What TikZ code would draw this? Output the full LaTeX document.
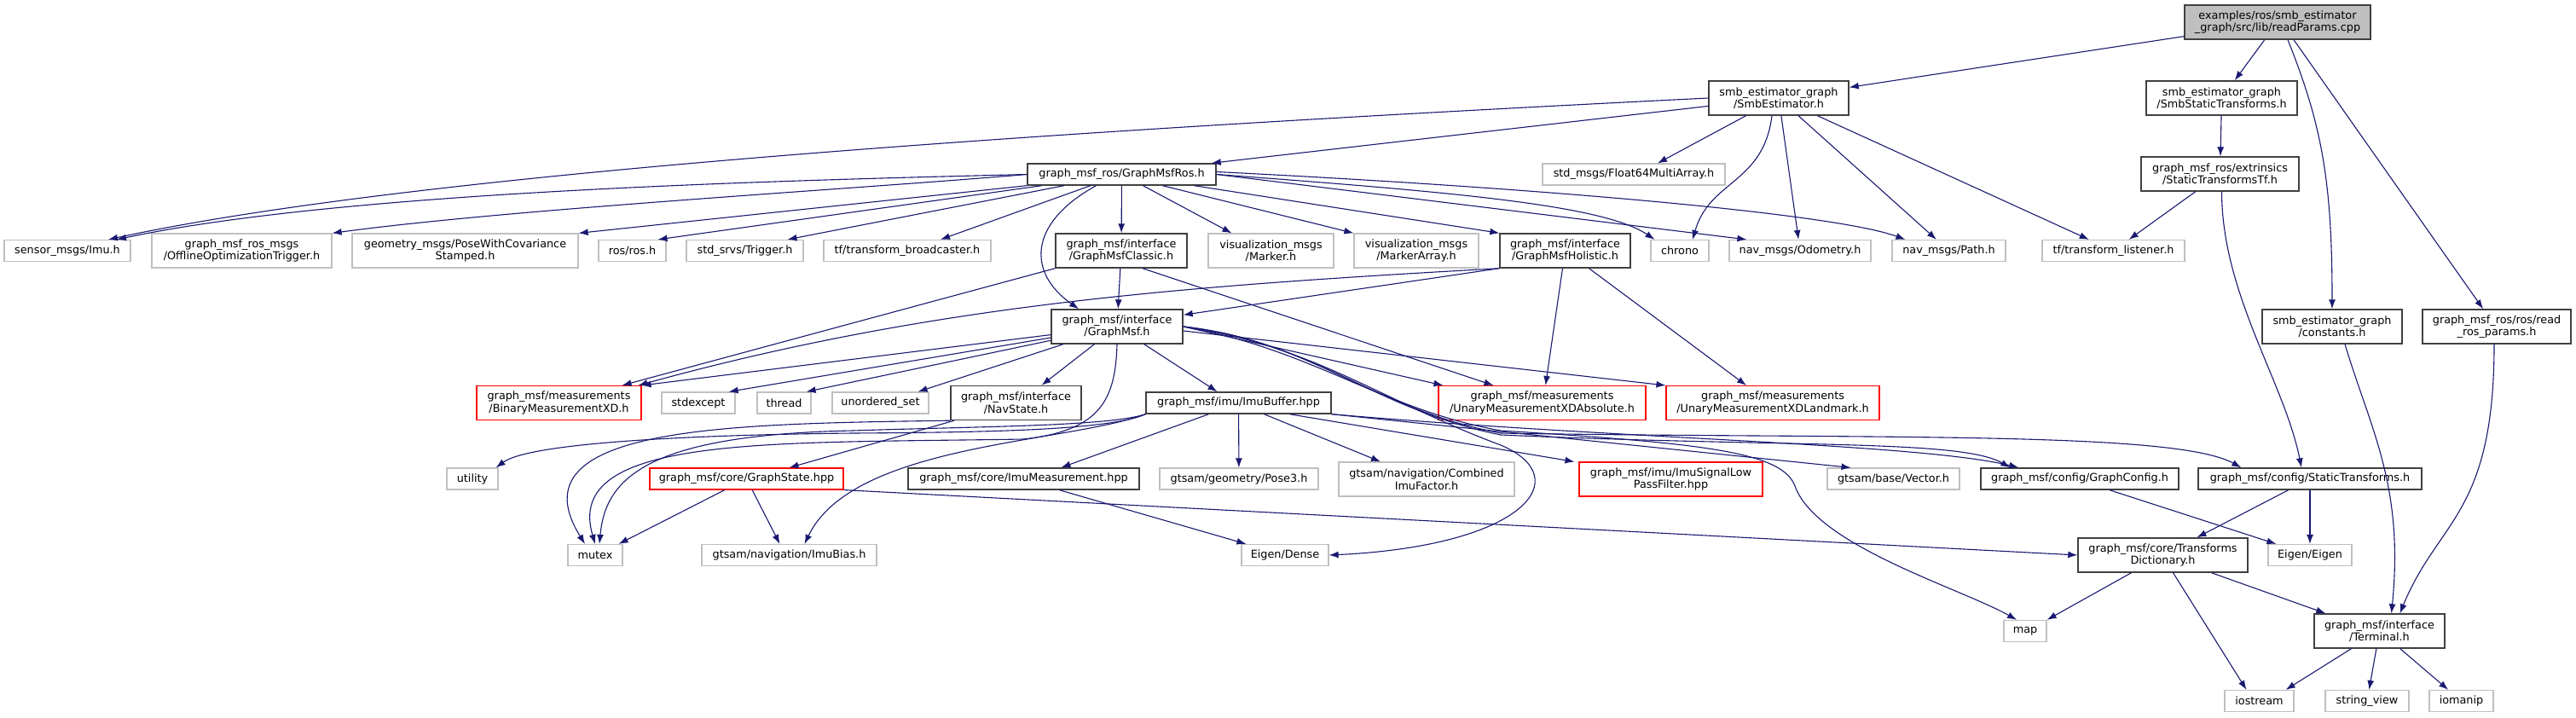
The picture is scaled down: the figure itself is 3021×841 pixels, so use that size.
\documentclass[tikz,border=0pt]{standalone}
\usepackage{fontspec}
\setmainfont{DejaVu Sans}
\usepackage{xcolor}
\usepackage{tikz}
\usetikzlibrary{arrows.meta}
\definecolor{edgeblue}{HTML}{191970}
\definecolor{extgray}{HTML}{BFBFBF}
\definecolor{docgray}{HTML}{404040}

\begin{document}
\begin{tikzpicture}[
  x=1pt,y=-1pt,
  file/.style={draw,rectangle,align=center,inner sep=2pt,minimum height=25,fill=white,font=\fontsize{12.8}{14.5}\selectfont},
  ext/.style={file,draw=extgray,line width=1.2pt},
  doc/.style={file,draw=docgray,line width=1.4pt},
  trunc/.style={file,draw=red,line width=1.1pt},
  root/.style={doc,fill=extgray},
  two/.style={minimum height=40},
  arrow/.style={-{Latex[length=11pt,width=8pt]},draw=edgeblue,line width=1.1pt}
]
\useasboundingbox (0,0) rectangle (3021,841);
\node[root,two,minimum width=218] (root) at (2671,26) {examples/ros/smb\_estimator\\\_graph/src/lib/readParams.cpp};
\node[doc,two,minimum width=164] (smbest) at (2086,115) {smb\_estimator\_graph\\/SmbEstimator.h};
\node[doc,two,minimum width=177] (smbstatic) at (2605.5,115) {smb\_estimator\_graph\\/SmbStaticTransforms.h};
\node[doc,minimum width=221] (rosnode) at (1315.5,204.5) {graph\_msf\_ros/GraphMsfRos.h};
\node[ext,minimum width=214] (float64) at (1916,204.5) {std\_msgs/Float64MultiArray.h};
\node[doc,two,minimum width=185] (tftf) at (2603.5,204) {graph\_msf\_ros/extrinsics\\/StaticTransformsTf.h};
\node[ext,minimum width=148] (imu) at (79,294) {sensor\_msgs/Imu.h};
\node[ext,two,minimum width=211] (offline) at (283.5,294) {graph\_msf\_ros\_msgs\\/OfflineOptimizationTrigger.h};
\node[ext,two,minimum width=265] (pose) at (545.5,294) {geometry\_msgs/PoseWithCovariance\\Stamped.h};
\node[ext,minimum width=79] (rosh) at (741.5,294) {ros/ros.h};
\node[ext,minimum width=137] (trigger) at (873.5,294) {std\_srvs/Trigger.h};
\node[ext,minimum width=196] (broadcaster) at (1064,294) {tf/transform\_broadcaster.h};
\node[doc,two,minimum width=154] (classic) at (1315,294) {graph\_msf/interface\\/GraphMsfClassic.h};
\node[ext,two,minimum width=147] (marker) at (1490.5,294) {visualization\_msgs\\/Marker.h};
\node[ext,two,minimum width=146] (markerarr) at (1661,294) {visualization\_msgs\\/MarkerArray.h};
\node[doc,two,minimum width=153] (holistic) at (1835.5,294) {graph\_msf/interface\\/GraphMsfHolistic.h};
\node[ext,minimum width=68] (chrono) at (1970,294) {chrono};
\node[ext,minimum width=166] (odom) at (2111,294) {nav\_msgs/Odometry.h};
\node[ext,minimum width=133] (path) at (2285.5,294) {nav\_msgs/Path.h};
\node[ext,minimum width=167] (listener) at (2478.5,294) {tf/transform\_listener.h};
\node[doc,two,minimum width=154] (graphmsf) at (1310,383) {graph\_msf/interface\\/GraphMsf.h};
\node[doc,two,minimum width=164] (constants) at (2735,383) {smb\_estimator\_graph\\/constants.h};
\node[doc,two,minimum width=174] (readros) at (2928,383) {graph\_msf\_ros/ros/read\\\_ros\_params.h};
\node[trunc,two,minimum width=193] (binary) at (655.5,472.5) {graph\_msf/measurements\\/BinaryMeasurementXD.h};
\node[ext,minimum width=86] (stdexcept) at (819,472.5) {stdexcept};
\node[ext,minimum width=63] (thread) at (919.5,472.5) {thread};
\node[ext,minimum width=113] (unordered) at (1032.5,472.5) {unordered\_set};
\node[doc,two,minimum width=153] (navstate) at (1191.5,472.5) {graph\_msf/interface\\/NavState.h};
\node[doc,minimum width=217] (imubuffer) at (1452.5,472.5) {graph\_msf/imu/ImuBuffer.hpp};
\node[trunc,two,minimum width=243] (unaryabs) at (1808.5,472.5) {graph\_msf/measurements\\/UnaryMeasurementXDAbsolute.h};
\node[trunc,two,minimum width=250] (landmark) at (2079,472.5) {graph\_msf/measurements\\/UnaryMeasurementXDLandmark.h};
\node[ext,minimum width=60] (utility) at (554,561.5) {utility};
\node[trunc,minimum width=227] (graphstate) at (875.5,561.5) {graph\_msf/core/GraphState.hpp};
\node[doc,minimum width=271] (imumeas) at (1200.5,561.5) {graph\_msf/core/ImuMeasurement.hpp};
\node[ext,minimum width=186] (pose3) at (1453,561.5) {gtsam/geometry/Pose3.h};
\node[ext,two,minimum width=206] (combined) at (1673,562) {gtsam/navigation/Combined\\ImuFactor.h};
\node[trunc,two,minimum width=215] (lowpass) at (1959.5,562) {graph\_msf/imu/ImuSignalLow\\PassFilter.hpp};
\node[ext,minimum width=155] (vector) at (2220.5,561.5) {gtsam/base/Vector.h};
\node[doc,minimum width=232] (graphconfig) at (2439,561.5) {graph\_msf/config/GraphConfig.h};
\node[doc,minimum width=262] (statictf) at (2709,561.5) {graph\_msf/config/StaticTransforms.h};
\node[ext,minimum width=64] (mutex) at (698,651) {mutex};
\node[ext,minimum width=205] (imubias) at (925.5,651) {gtsam/navigation/ImuBias.h};
\node[ext,minimum width=102] (dense) at (1507,651) {Eigen/Dense};
\node[doc,two,minimum width=199] (dict) at (2536.5,651) {graph\_msf/core/Transforms\\Dictionary.h};
\node[ext,minimum width=98] (eigen) at (2709,651) {Eigen/Eigen};
\node[ext,minimum width=50] (map) at (2375,740) {map};
\node[doc,two,minimum width=153] (terminal) at (2790.5,740) {graph\_msf/interface\\/Terminal.h};
\node[ext,minimum width=81] (iostream) at (2649.5,822) {iostream};
\node[ext,minimum width=98] (stringview) at (2776,822) {string\_view};
\node[ext,minimum width=75] (iomanip) at (2886.5,822) {iomanip};
\draw[arrow] (root) -- (smbest);
\draw[arrow] (root) -- (smbstatic);
\draw[arrow] ([xshift=12pt]root.south) .. controls +(40,100) and +(0,-150) .. (constants.north);
\draw[arrow] ([xshift=19pt]root.south) -- ([xshift=-16pt]readros.north);
\draw[arrow] (smbest.west) .. controls (1300,150) and (500,200) .. ([xshift=48pt]imu.north);
\draw[arrow] (smbest) -- ([xshift=-6pt]rosnode.north east);
\draw[arrow] (smbest) -- ([xshift=28pt]float64.north);
\draw[arrow] ([xshift=-8pt]smbest.south) .. controls +(-10,80) and +(20,-70) .. ([xshift=15pt]chrono.north);
\draw[arrow] (smbest) -- (odom);
\draw[arrow] (smbest) -- (path);
\draw[arrow] (smbest) -- (listener);
\draw[arrow] (smbstatic) -- (tftf);
\draw[arrow] (tftf) -- (listener);
\draw[arrow] ([xshift=2pt]tftf.south) .. controls +(0,120) and +(-20,-100) .. ([xshift=-10pt]statictf.north);
\draw[arrow] ([xshift=15pt]constants.south) .. controls +(30,100) and +(15,-150) .. ([xshift=14pt]terminal.north);
\draw[arrow] ([xshift=-3pt]readros.south) .. controls +(0,200) and +(45,-110) .. ([xshift=24pt]terminal.north);
\draw[arrow] (rosnode.west) .. controls (900,212) and (400,225) .. ([xshift=58pt]imu.north);
\draw[arrow] (rosnode.west) .. controls (1000,222) and (600,245) .. (offline.north east);
\draw[arrow] (rosnode.south west) -- (pose.north east);
\draw[arrow] (rosnode) -- ([xshift=30pt]rosh.north);
\draw[arrow] (rosnode) -- ([xshift=50pt]trigger.north);
\draw[arrow] (rosnode) -- ([xshift=39pt]broadcaster.north);
\draw[arrow] ([xshift=-30pt]rosnode.south) .. controls (1205,262) and (1205,320) .. ([xshift=-45pt]graphmsf.north);
\draw[arrow] (rosnode) -- (classic);
\draw[arrow] ([xshift=25pt]rosnode.south) -- ([xshift=-46pt]marker.north);
\draw[arrow] ([xshift=48pt]rosnode.south) -- (markerarr.north west);
\draw[arrow] ([xshift=85pt]rosnode.south) -- (holistic.north west);
\draw[arrow] (rosnode.east) .. controls (1700,225) and (1880,240) .. ([xshift=5pt]chrono.north west);
\draw[arrow] (rosnode.east) -- ([xshift=21pt]odom.north west);
\draw[arrow] ([yshift=3pt]rosnode.east) .. controls (1800,220) and (2150,250) .. ([xshift=16pt]path.north west);
\draw[arrow] (classic) -- (graphmsf);
\draw[arrow] (classic.south west) -- ([xshift=-23pt]binary.north east);
\draw[arrow] ([xshift=25pt]classic.south) -- ([xshift=-57pt]unaryabs.north);
\draw[arrow] (holistic.south west) -- ([yshift=-7pt]graphmsf.north east);
\draw[arrow] (holistic.south west) .. controls (1400,335) and (1100,355) .. ([xshift=-4pt]binary.north east);
\draw[arrow] (holistic) -- ([xshift=4pt]unaryabs.north);
\draw[arrow] ([xshift=28pt]holistic.south) -- ([xshift=-31pt]landmark.north);
\draw[arrow] (graphmsf) -- (binary.north east);
\draw[arrow] (graphmsf) -- ([xshift=-8pt]stdexcept.north east);
\draw[arrow] (graphmsf) -- ([xshift=-6pt]thread.north east);
\draw[arrow] (graphmsf) -- ([xshift=-13pt]unordered.north east);
\draw[arrow] (graphmsf) -- ([xshift=30pt]navstate.north);
\draw[arrow] (graphmsf) -- ([xshift=-25pt]imubuffer.north);
\draw[arrow] (graphmsf.east) -- ([xshift=6pt]unaryabs.north west);
\draw[arrow] ([yshift=-5pt]graphmsf.east) -- (landmark.north west);
\draw[arrow] (graphmsf.south) .. controls (1308,470) and (1290,505) .. (1200,515) .. controls (900,520) and (660,510) .. (mutex.north);
\draw[arrow] (graphmsf.east) .. controls (1540,405) and (1620,470) .. (1760,522) .. controls (1850,560) and (1790,640) .. (dense.east);
\draw[arrow] (graphmsf.east) .. controls (1540,410) and (1620,480) .. (1760,505) .. controls (2000,520) and (2090,530) .. (2105,570) .. controls (2130,640) and (2300,690) .. ([xshift=-10pt]map.north);
\draw[arrow] (graphmsf.east) .. controls (1540,400) and (1610,480) .. (1760,510) .. controls (2100,525) and (2300,515) .. ([xshift=35pt]graphconfig.north west);
\draw[arrow] (graphmsf.east) .. controls (1540,400) and (1610,480) .. (1760,508) .. controls (2200,515) and (2550,505) .. ([xshift=51pt]statictf.north west);
\draw[arrow] (navstate) -- ([xshift=50pt]graphstate.north);
\draw[arrow] (navstate.south west) .. controls (850,497) and (600,500) .. ([xshift=-12pt]mutex.north);
\draw[arrow] ([xshift=-35pt]imubuffer.south) -- ([xshift=44pt]imumeas.north);
\draw[arrow] (imubuffer) -- (pose3);
\draw[arrow] ([xshift=30pt]imubuffer.south) -- ([xshift=-54pt]combined.north);
\draw[arrow] ([xshift=60pt]imubuffer.south) -- ([xshift=-5pt]lowpass.north west);
\draw[arrow] (imubuffer.south east) -- ([xshift=-50pt]vector.north);
\draw[arrow] (imubuffer.south east) .. controls (1900,515) and (2250,520) .. ([xshift=45pt]graphconfig.north west);
\draw[arrow] (imubuffer.south west) .. controls (1300,500) and (1150,500) .. (1000,505) .. controls (760,510) and (710,560) .. ([xshift=5pt]mutex.north);
\draw[arrow] (imubuffer.south west) .. controls (1300,505) and (1150,507) .. (1000,508) .. controls (800,510) and (620,520) .. ([xshift=-3pt]utility.north east);
\draw[arrow] (imubuffer.south west) .. controls (1250,520) and (1000,520) .. ([xshift=18pt]imubias.north);
\draw[arrow] (graphstate) -- ([xshift=-5pt]mutex.north east);
\draw[arrow] (graphstate) -- ([xshift=-11pt]imubias.north);
\draw[arrow] (graphstate.south east) -- (dict.west);
\draw[arrow] ([xshift=42pt]imumeas.south) -- ([xshift=6pt]dense.north west);
\draw[arrow] ([xshift=35pt]graphconfig.south) -- ([xshift=10pt]eigen.north west);
\draw[arrow] (statictf) -- (dict);
\draw[arrow] (statictf) -- (eigen);
\draw[arrow] (dict) -- (map.north east);
\draw[arrow] ([xshift=12pt]dict.south) -- ([xshift=-15pt]iostream.north);
\draw[arrow] ([xshift=57pt]dict.south) -- ([xshift=14pt]terminal.north west);
\draw[arrow] (terminal) -- ([xshift=-10pt]iostream.north east);
\draw[arrow] (terminal) -- (stringview);
\draw[arrow] (terminal) -- (iomanip);
\end{tikzpicture}
\end{document}
